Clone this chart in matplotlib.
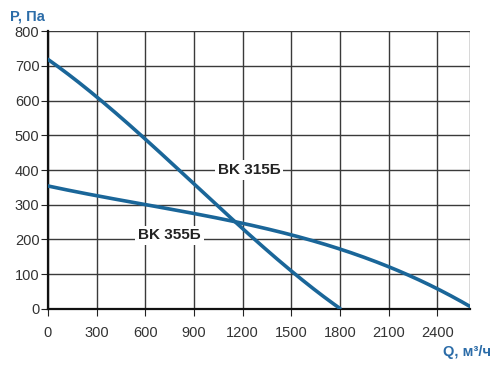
import numpy as np
import matplotlib.pyplot as plt

plt.rcParams['font.family'] = ['Liberation Sans', 'DejaVu Sans']

# curve data
q_315 = [0, 300, 600, 900, 1200, 1500, 1800]
p_315 = [718, 612, 492, 355, 232, 112, 0]

q_355 = [0, 300, 600, 900, 1200, 1500, 1800, 2100, 2400, 2600]
p_355 = [355, 325, 298, 277, 250, 212, 168, 122, 62, 5]

x_ticks = [0, 300, 600, 900, 1200, 1500, 1800, 2100, 2400]
y_ticks = [0, 100, 200, 300, 400, 500, 600, 700, 800]

line_col = '#1a6699'
label_col = '#2b6ca8'

fig = plt.figure(figsize=(4.93, 3.66), dpi=100)
ax = fig.add_axes([0.097, 0.156, 0.856, 0.759])


def smooth(xs, ys):
    xx = np.linspace(xs[0], xs[-1], 200)
    # cubic fit through the read points
    c = np.polyfit(xs, ys, 3)
    return xx, np.polyval(c, xx)


xx, yy = smooth(q_315, p_315)
ax.plot(xx, yy, color=line_col, lw=2.6, solid_capstyle='round', zorder=3)
xx, yy = smooth(q_355, p_355)
ax.plot(xx, yy, color=line_col, lw=2.6, solid_capstyle='round', zorder=3)

ax.set_xlim(0, 2600)
ax.set_ylim(0, 800)
ax.set_xticks(x_ticks)
ax.set_yticks(y_ticks)
ax.set_xticks([2600], minor=True)
ax.grid(True, which='both', color='#3a3a3a', lw=1.0)
ax.tick_params(which='both', direction='out', length=5, color='#222222',
               labelsize=10.5, labelcolor='#333333', pad=1)
ax.tick_params(axis='x', pad=7)
ax.tick_params(axis='x', which='minor', length=0)

for s in ['top', 'right']:
    ax.spines[s].set_visible(False)
for s in ['left', 'bottom']:
    ax.spines[s].set_linewidth(1.6)
    ax.spines[s].set_color('#111111')

ax.text(1240, 400, 'BK 315Б', fontsize=11, fontweight='bold', ha='center',
        va='center', color='#222222', zorder=4,
        bbox=dict(facecolor='white', edgecolor='none', pad=2))
ax.text(750, 212, 'BK 355Б', fontsize=11, fontweight='bold', ha='center',
        va='center', color='#222222', zorder=4,
        bbox=dict(facecolor='white', edgecolor='none', pad=2))

fig.text(0.02, 0.975, 'P, Па', fontsize=10.5, fontweight='bold', color=label_col,
         ha='left', va='top')
fig.text(0.995, 0.02, 'Q, м³/ч', fontsize=10.5, fontweight='bold', color=label_col,
         ha='right', va='bottom')

fig.savefig('out.png', dpi=100)
